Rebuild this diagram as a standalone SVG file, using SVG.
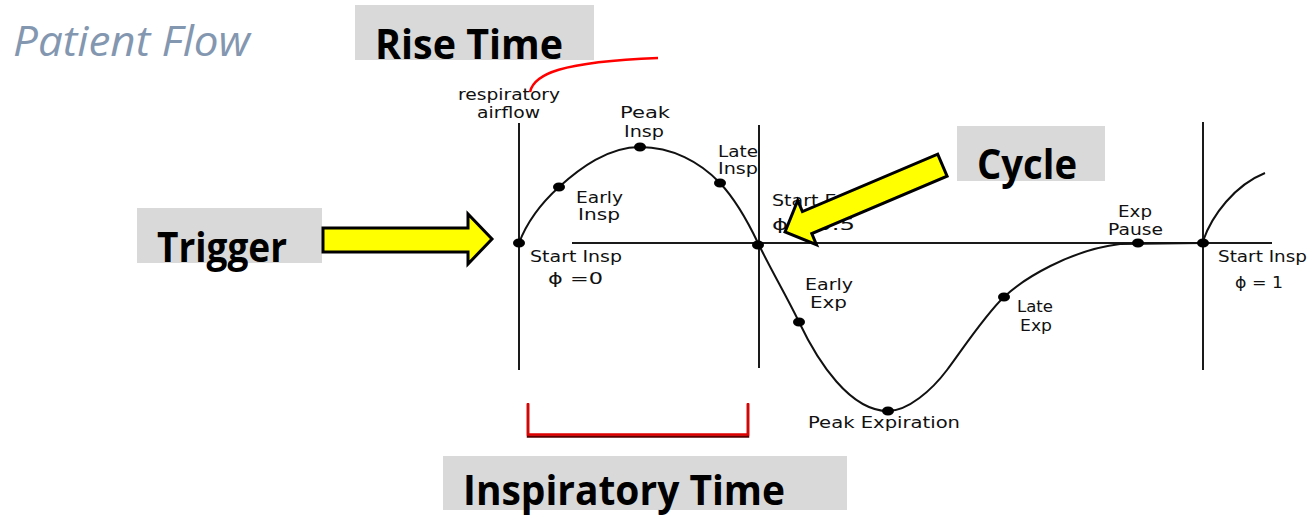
<svg xmlns="http://www.w3.org/2000/svg" width="1309" height="517" viewBox="0 0 1309 517">
<style>
.box{fill:#D9D9D9}
.lbl{font-family:"Open Sans","Liberation Sans",sans-serif;font-weight:700;font-size:42px;fill:#000}
.fig{font-family:"DejaVu Sans","Liberation Sans",sans-serif;font-size:15.5px;fill:#111}
.ax{stroke:#1a1a1a;stroke-width:2;fill:none}
.wave{stroke:#111;stroke-width:2;fill:none}
.dot{fill:#000}
.yarrow{fill:#FFFF00;stroke:#000;stroke-width:3;stroke-linejoin:miter}
.red{stroke:#FF0000;stroke-width:2.5;fill:none}
</style>
<rect width="1309" height="517" fill="#FFFFFF"/>

<g id="title">
<text x="13" y="56" font-family="'Open Sans','Liberation Sans',sans-serif" font-style="italic" font-weight="400" font-size="42" fill="#8497B0" textLength="237" lengthAdjust="spacingAndGlyphs">Patient Flow</text>
</g>

<g id="chart">
<line class="ax" x1="519" y1="123" x2="519" y2="370"/>
<line class="ax" x1="759" y1="125" x2="759" y2="368"/>
<line class="ax" x1="1203" y1="122" x2="1203" y2="370"/>
<line class="ax" x1="572" y1="243" x2="1272" y2="243"/>
<path class="wave" d="M519,243 C527,222 543,201.5 559,187 C580,168 608,147 640,147 C672,147 700,162 720,183 C735,199 748,222 758,243 C771,270 787,297 799,322 C818,362 850,411 888,411 C908,411 932,390 947,370 C962,350 985,315 1004,297 C1023,279 1070,250 1120,244 L1203,243"/>
<path class="wave" d="M1203,241 C1212,215 1235,185 1265,173"/>
<g>
<ellipse class="dot" cx="519" cy="243" rx="6" ry="4.5"/>
<ellipse class="dot" cx="559" cy="187" rx="6" ry="4.5"/>
<ellipse class="dot" cx="640" cy="147" rx="6" ry="4.5"/>
<ellipse class="dot" cx="720" cy="183" rx="6" ry="4.5"/>
<ellipse class="dot" cx="758" cy="245" rx="6" ry="4.5"/>
<ellipse class="dot" cx="799" cy="322" rx="6" ry="4.5"/>
<ellipse class="dot" cx="888" cy="411" rx="6" ry="4.5"/>
<ellipse class="dot" cx="1004" cy="297" rx="6" ry="4.5"/>
<ellipse class="dot" cx="1138" cy="243" rx="6" ry="4.5"/>
<ellipse class="dot" cx="1203" cy="243" rx="6" ry="4.5"/>
</g>
<text class="fig" x="458" y="100" textLength="102" lengthAdjust="spacingAndGlyphs">respiratory</text>
<text class="fig" x="477" y="118" textLength="63" lengthAdjust="spacingAndGlyphs">airflow</text>
<text class="fig" x="620" y="118" textLength="50" lengthAdjust="spacingAndGlyphs">Peak</text>
<text class="fig" x="624" y="137" textLength="40" lengthAdjust="spacingAndGlyphs">Insp</text>
<text class="fig" x="718" y="157" textLength="40" lengthAdjust="spacingAndGlyphs">Late</text>
<text class="fig" x="718" y="174" textLength="40" lengthAdjust="spacingAndGlyphs">Insp</text>
<text class="fig" x="576" y="203" textLength="47" lengthAdjust="spacingAndGlyphs">Early</text>
<text class="fig" x="578" y="220" textLength="42" lengthAdjust="spacingAndGlyphs">Insp</text>
<text class="fig" x="530" y="262" textLength="92" lengthAdjust="spacingAndGlyphs">Start Insp</text>
<text class="fig" x="548" y="284" textLength="55" lengthAdjust="spacingAndGlyphs">ϕ =0</text>
<text class="fig" x="772" y="206" textLength="88" lengthAdjust="spacingAndGlyphs">Start Exp</text>
<text class="fig" x="772" y="230" textLength="83" lengthAdjust="spacingAndGlyphs">ϕ =0.5</text>
<text class="fig" x="805" y="290" textLength="48" lengthAdjust="spacingAndGlyphs">Early</text>
<text class="fig" x="810" y="308" textLength="37" lengthAdjust="spacingAndGlyphs">Exp</text>
<text class="fig" x="808" y="428" textLength="152" lengthAdjust="spacingAndGlyphs">Peak Expiration</text>
<text class="fig" x="1017" y="312" textLength="36" lengthAdjust="spacingAndGlyphs">Late</text>
<text class="fig" x="1020" y="331" textLength="32" lengthAdjust="spacingAndGlyphs">Exp</text>
<text class="fig" x="1118" y="217" textLength="34" lengthAdjust="spacingAndGlyphs">Exp</text>
<text class="fig" x="1108" y="235" textLength="55" lengthAdjust="spacingAndGlyphs">Pause</text>
<text class="fig" x="1218" y="262" textLength="89" lengthAdjust="spacingAndGlyphs">Start Insp</text>
<text class="fig" x="1235" y="288" textLength="48" lengthAdjust="spacingAndGlyphs">ϕ = 1</text>
</g>

<g id="rise-time">
<rect class="box" x="355" y="5" width="239" height="55"/>
<text class="lbl" x="375" y="59" textLength="188" lengthAdjust="spacingAndGlyphs">Rise Time</text>
</g>
<g id="trigger">
<rect class="box" x="137" y="208" width="185" height="55"/>
<text class="lbl" x="157" y="262" textLength="130" lengthAdjust="spacingAndGlyphs">Trigger</text>
</g>
<g id="cycle">
<rect class="box" x="957" y="126" width="148" height="55"/>
<text class="lbl" x="977" y="179" textLength="100" lengthAdjust="spacingAndGlyphs">Cycle</text>
</g>
<g id="inspiratory-time">
<rect class="box" x="443" y="456" width="404" height="54"/>
<text class="lbl" x="463" y="505" textLength="322" lengthAdjust="spacingAndGlyphs">Inspiratory Time</text>
</g>

<g id="connectors">
<polygon class="yarrow" points="323,228 468,228 468,214 492,239 468,264 468,252 323,252"/>
<polygon class="yarrow" transform="translate(785,232) rotate(-23)" points="0,0 24,-24 24,-12 171,-12 171,12 24,12 24,24"/>
<path class="red" d="M530,92 C534,74 560,62 658,58"/>
<path d="M528,404 L528,436.5 L748,436.5 L748,404" fill="none" stroke="#5a0000" stroke-width="2.5"/>
<path d="M528,403 L528,434.5 L748,434.5 L748,403" fill="none" stroke="#E00000" stroke-width="2.5"/>
</g>
</svg>
